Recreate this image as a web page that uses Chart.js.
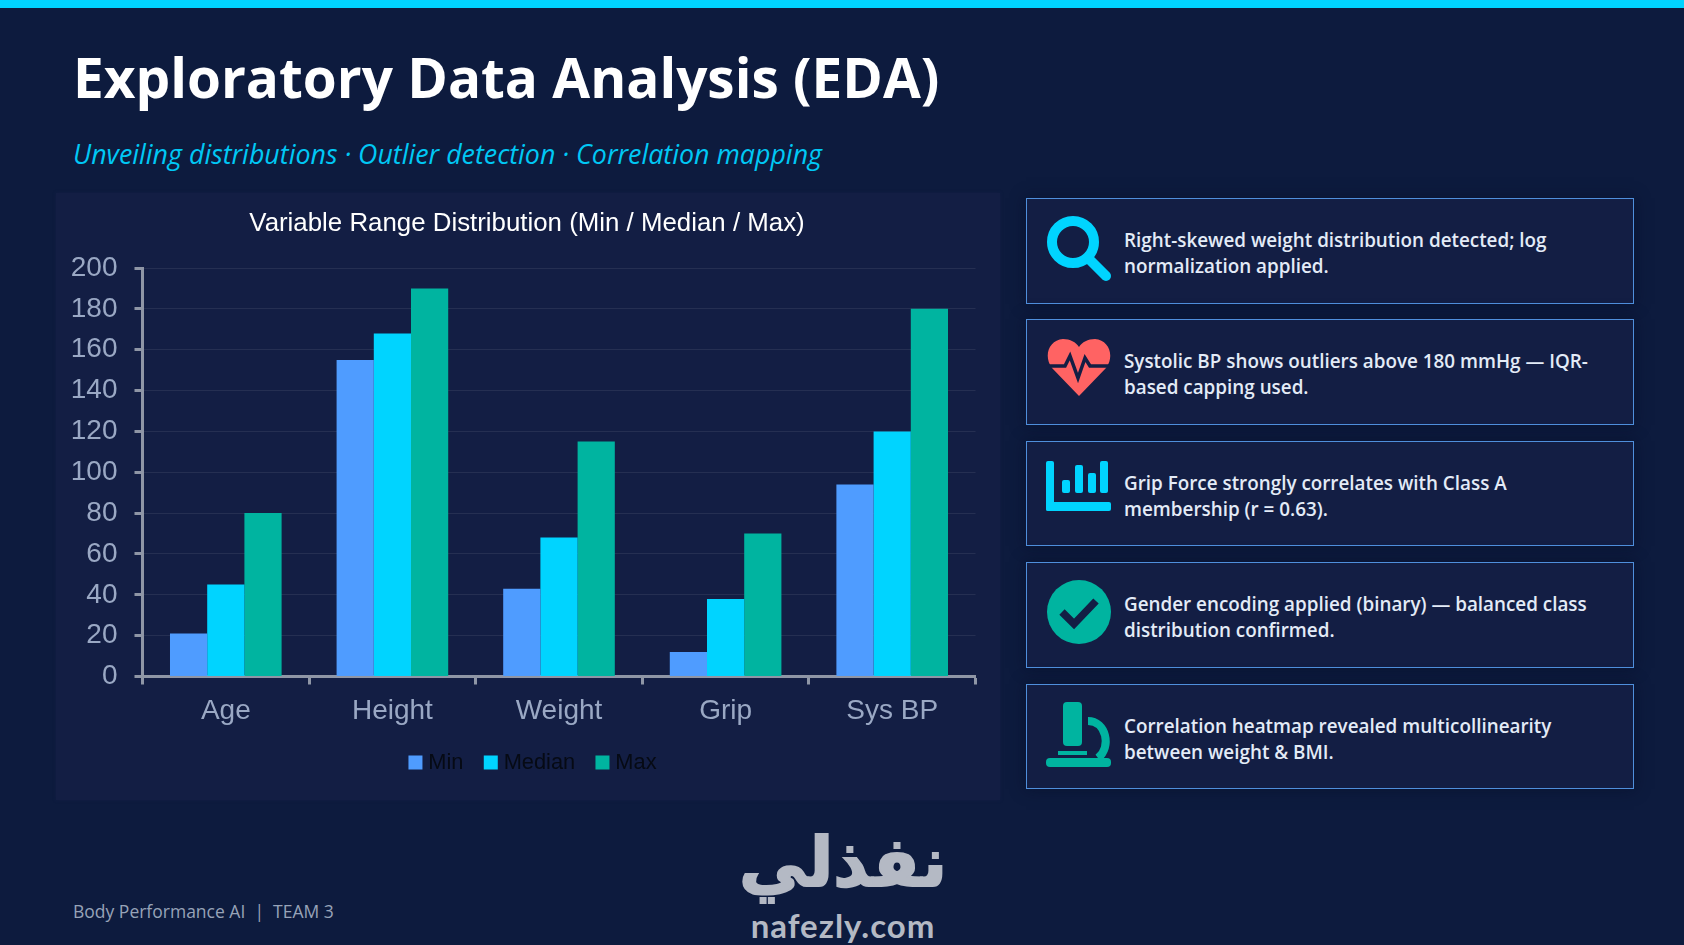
<!DOCTYPE html>
<html><head><meta charset="utf-8">
<style>
html,body{margin:0;padding:0;width:1684px;height:945px;overflow:hidden;background:#0d1b3e}
#bar{position:absolute;left:0;top:0;width:1684px;height:8px;background:#00d4ff}
#title{position:absolute;left:73px;top:39px;font:700 54.9px "Open Sans",sans-serif;color:#fff;white-space:nowrap}
#sub{position:absolute;left:73px;top:135px;font:italic 400 26.8px "Open Sans",sans-serif;color:#00c8f5;white-space:nowrap}
#panel{position:absolute;left:56px;top:193px;width:944px;height:607px;background:#131e44;box-shadow:0 0 3px #131e44}
#panel canvas{display:block;margin-left:-1px}
.card{position:absolute;left:1026px;width:608px;box-sizing:border-box;border:1.5px solid #4f8fdc;background:#131e44;box-shadow:0 0 14px rgba(5,12,35,.5)}
.card svg{position:absolute;left:19px;top:16px;width:66px;height:66px}
.card p{position:absolute;left:97px;top:28px;margin:0;width:500px;font:600 18.85px/26.4px "Open Sans",sans-serif;color:#e3ebf7}
#foot{position:absolute;left:73px;top:899px;font:400 17.5px "Open Sans",sans-serif;color:#97a3b8;white-space:nowrap}
#logoA{position:absolute;left:733px;top:828px;width:220px;text-align:center;font:700 68px "DejaVu Sans",sans-serif;color:#b4b9c4;white-space:nowrap;line-height:70px;-webkit-text-stroke:2px #b4b9c4}
#logoB{position:absolute;left:733px;top:905px;width:220px;text-align:center;font:700 33px "Lato",sans-serif;color:#b4b9c4;white-space:nowrap;line-height:40px;letter-spacing:1px}
</style></head><body>
<div id="bar"></div>
<div id="title">Exploratory Data Analysis (EDA)</div>
<div id="sub">Unveiling distributions · Outlier detection · Correlation mapping</div>
<div id="panel"><canvas id="c" width="945" height="607"></canvas></div>

<div class="card" style="top:198px;height:106px">
<svg viewBox="0 0 66 66"><circle cx="27" cy="27" r="21" fill="none" stroke="#00d4ff" stroke-width="10"/><path d="M44 45L60 61" stroke="#00d4ff" stroke-width="10" stroke-linecap="round"/></svg>
<p>Right-skewed weight distribution detected; log normalization applied.</p></div>
<div class="card" style="top:319px;height:106px">
<svg viewBox="0 0 66 66"><path d="M33 60L6 32C-3 20 3 4 17 3C24 3 30 6 33 11C36 6 42 3 49 3C63 4 69 20 60 32Z" fill="#ff6363"/><path d="M2 30H19L24 20L32 42L39 22L44 30H64" fill="none" stroke="#131e44" stroke-width="3.5"/></svg>
<p>Systolic BP shows outliers above 180 mmHg — IQR-based capping used.</p></div>
<div class="card" style="top:441px;height:105px">
<svg viewBox="0 0 66 66"><g fill="#00d4ff"><rect x="0" y="3" width="8" height="50" rx="2"/><rect x="0" y="44" width="65" height="9" rx="2"/><rect x="16" y="22" width="8" height="13" rx="2"/><rect x="29" y="7" width="8" height="28" rx="2"/><rect x="42" y="15" width="8" height="20" rx="2"/><rect x="54" y="3" width="8" height="32" rx="2"/></g></svg>
<p>Grip Force strongly correlates with Class A membership (r = 0.63).</p></div>
<div class="card" style="top:562px;height:106px">
<svg viewBox="0 0 66 66"><circle cx="33" cy="33" r="32" fill="#00b4a0"/><path d="M16 33L28 45L50 22" fill="none" stroke="#131e44" stroke-width="7.5"/></svg>
<p>Gender encoding applied (binary) — balanced class distribution confirmed.</p></div>
<div class="card" style="top:684px;height:105px">
<svg viewBox="0 0 66 66"><g fill="#00b4a0"><rect x="17" y="1" width="19" height="44" rx="4"/><rect x="12" y="50" width="29" height="4"/><rect x="0" y="57" width="65" height="9" rx="4"/></g><path d="M42 20C60 20 66 46 52 57" fill="none" stroke="#00b4a0" stroke-width="8"/></svg>
<p>Correlation heatmap revealed multicollinearity between weight &amp; BMI.</p></div>

<div id="foot">Body Performance AI&nbsp; |&nbsp; TEAM 3</div>
<div id="logoA">نفذلي</div>
<div id="logoB">nafezly.com</div>

<script src="https://cdn.jsdelivr.net/npm/chart.js@4/dist/chart.umd.min.js"></script>
<script>
const categories = ["Age","Height","Weight","Grip","Sys BP"];
const minValues = [21,155,43,12,94];
const medianValues = [45,168,68,38,120];
const maxValues = [80,190,115,70,180];
const seriesColors = ["#4f9cff","#00d4ff","#00b4a0"];
const FONT = '"Liberation Sans", Arial, sans-serif';
const AXIS = "#8f96a6", TICK = "#9aa8c4";
Chart.defaults.animation = false;
const nudgeHeader = {
  id:"nudgeHeader",
  afterLayout(chart){
    chart.titleBlock.left += 6.75; chart.titleBlock.right += 6.75;
    chart.legend.left += 14.75; chart.legend.right += 14.75;
  }
};
new Chart(document.getElementById("c"),{
  type:"bar",
  plugins:[nudgeHeader],
  data:{labels:categories,datasets:[
    {label:"Min",data:minValues,backgroundColor:seriesColors[0]},
    {label:"Median",data:medianValues,backgroundColor:seriesColors[1]},
    {label:"Max",data:maxValues,backgroundColor:seriesColors[2]}
  ]},
  options:{
    responsive:false,animation:false,
    categoryPercentage:.67,barPercentage:1,
    layout:{padding:{left:10,right:24.5,top:15,bottom:16.6}},
    plugins:{
      title:{display:true,text:"Variable Range Distribution (Min / Median / Max)",color:"#fff",font:{family:FONT,size:25.85,weight:"normal"},padding:{top:0,bottom:29}},
      legend:{position:"bottom",labels:{boxWidth:4,boxHeight:4,padding:25.3,color:"#060a14",font:{family:FONT,size:21.8},
        generateLabels(chart){
          return Chart.defaults.plugins.legend.labels.generateLabels(chart).map(l=>({...l,lineWidth:10,strokeStyle:l.fillStyle}));
        }}},
      tooltip:{enabled:false}
    },
    scales:{
      x:{afterFit(s){s.height=49.8},
         grid:{drawOnChartArea:false,color:AXIS,tickColor:AXIS,tickWidth:3,tickLength:8},border:{color:AXIS,width:3},
         ticks:{color:TICK,font:{family:FONT,size:28,lineHeight:1},padding:13}},
      y:{min:0,max:200,afterFit(s){s.width=77.5},
         grid:{color:"rgba(255,255,255,.08)",tickColor:AXIS,tickWidth:3,tickLength:8},border:{color:AXIS,width:3},
         ticks:{stepSize:20,color:TICK,font:{family:FONT,size:28},padding:17}}
    }
  }
});
</script>
</body></html>
